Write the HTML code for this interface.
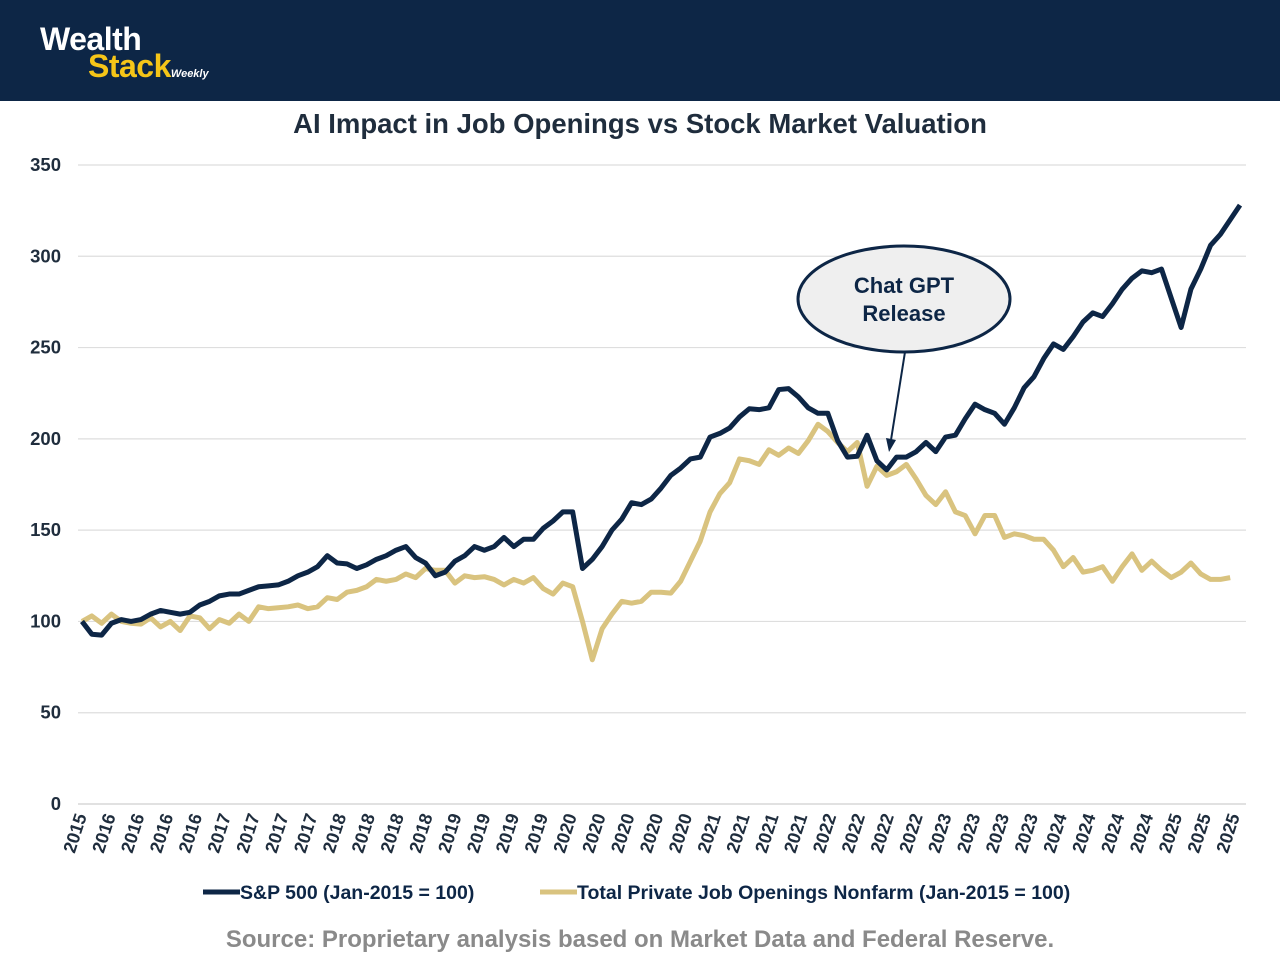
<!DOCTYPE html>
<html><head><meta charset="utf-8"><style>
body{margin:0;width:1280px;height:960px;background:#fff;font-family:"Liberation Sans",sans-serif;overflow:hidden}
#hdr{position:absolute;left:0;top:0;width:1280px;height:101px;background:#0d2646}
</style></head><body>
<div id="hdr">
<div style="position:absolute;left:40px;top:26px;font-weight:bold;line-height:27px">
<div style="color:#fff;font-size:32px;letter-spacing:-0.5px">Wealth</div>
<div style="color:#f5c518;font-size:32px;margin-left:48px;letter-spacing:-0.5px">Stack<span style="font-size:11px;color:#fff;font-style:italic;letter-spacing:0">Weekly</span></div>
</div></div>
<svg id="chart" width="1280" height="960" style="position:absolute;left:0;top:0">
<text x="640" y="133" text-anchor="middle" font-size="27.5" font-weight="bold" fill="#1f2d3d">AI Impact in Job Openings vs Stock Market Valuation</text>
<g id="grid"></g><g id="xt"></g><g id="lines"></g>
<g>
<ellipse cx="904" cy="299" rx="106" ry="53" fill="#efefef" stroke="#0d2646" stroke-width="3"/>
<text x="904" y="293" text-anchor="middle" font-size="22" font-weight="bold" fill="#0d2646">Chat GPT</text>
<text x="904" y="321" text-anchor="middle" font-size="22" font-weight="bold" fill="#0d2646">Release</text>
<line x1="905" y1="352" x2="891" y2="440" stroke="#0d2646" stroke-width="2"/>
<polygon points="886,438 896,440 889,452" fill="#0d2646"/>
</g>
<g>
<line x1="203" y1="892" x2="240" y2="892" stroke="#0d2646" stroke-width="5"/>
<text x="240" y="899" font-size="19.5" font-weight="bold" fill="#0d2646">S&amp;P 500 (Jan-2015 = 100)</text>
<line x1="540" y1="892" x2="577" y2="892" stroke="#d9c37f" stroke-width="5"/>
<text x="577" y="899" font-size="19.5" font-weight="bold" fill="#0d2646">Total Private Job Openings Nonfarm (Jan-2015 = 100)</text>
</g>
<text x="640" y="947" text-anchor="middle" font-size="24" font-weight="bold" fill="#8a8a8a">Source: Proprietary analysis based on Market Data and Federal Reserve.</text>
</svg>
<script>
const yTicks=[0,50,100,150,200,250,300,350];
const xLabels=["2015","2016","2016","2016","2016","2017","2017","2017","2017","2018","2018","2018","2018","2019","2019","2019","2019","2020","2020","2020","2020","2020","2021","2021","2021","2021","2022","2022","2022","2022","2023","2023","2023","2023","2024","2024","2024","2024","2025","2025","2025"];
const sp500=[100,93,92.5,99,101,100,101,104,106,105,104,105,109,111,114,115,115,117,119,119.5,120,122,125,127,130,136,132,131.5,129,131,134,136,139,141,135,132,125,127,133,136,141,139,141,146,141,145,145,151,155,160,160,129,134,141,150,156,165,164,167,173,180,184,189,190,201,203,206,212,216.5,216,217,227,227.5,223,217,214,214,199,190,190.5,202,188,183,190,190,193,198,193,201,202,211,219,216,214,208,217,228,234,244,252,249,256,264,269,267,274,282,288,292,291,293,277,261,282,293,306,312,320,328];
const jobs=[100,103,99,104,100,99,98.5,102,97,100,95,103,102,96,101,99,104,100,108,107,107.5,108,109,107,108,113,112,116,117,119,123,122,123,126,124,129,128,128,121,125,124,124.5,123,120,123,121,124,118,115,121,119,100,79,96,104,111,110,111,116,116,115.5,122,133,144,160,170,176,189,188,186,194,191,195,192,199,208,204,198,193,198,174,185,180,182,186,178,169,164,171,160,158,148,158,158,146,148,147,145,145,139,130,135,127,128,130,122,130,137,128,133,128,124,127,132,126,123,123,124];
const NS="http://www.w3.org/2000/svg";
const X0=82,X1=1240,N=sp500.length;
const xs=i=>X0+(X1-X0)*i/(N-1);
const ys=v=>804-v*(804-165)/350;
const grid=document.getElementById('grid');
yTicks.forEach(t=>{
 const l=document.createElementNS(NS,'line');
 l.setAttribute('x1',78);l.setAttribute('x2',1246);l.setAttribute('y1',ys(t));l.setAttribute('y2',ys(t));
 l.setAttribute('stroke',t===0?'#cfcfcf':'#dedede');l.setAttribute('stroke-width',1.2);
 
 
 grid.appendChild(l);
 const tx=document.createElementNS(NS,'text');
 tx.setAttribute('x',61);tx.setAttribute('y',ys(t)+6);tx.setAttribute('text-anchor','end');
 tx.setAttribute('font-size',18.5);tx.setAttribute('font-weight','bold');tx.setAttribute('fill','#1f2d3d');
 tx.textContent=t;
 
 
 grid.appendChild(tx);
});
const xt=document.getElementById('xt');
xLabels.forEach((s,i)=>{
 const x=X0+(1235-X0)*i/(xLabels.length-1)+5;
 const tx=document.createElementNS(NS,'text');
 tx.setAttribute('transform',`translate(${x},816) rotate(-72)`);
 tx.setAttribute('text-anchor','end');tx.setAttribute('font-size',18);tx.setAttribute('font-weight','bold');tx.setAttribute('fill','#1f2d3d');
 tx.textContent=s;
 
 
 xt.appendChild(tx);
});
const lines=document.getElementById('lines');
function draw(arr,color,name){
 const p=document.createElementNS(NS,'polyline');
 p.setAttribute('points',arr.map((v,i)=>xs(i)+','+ys(v)).join(' '));
 p.setAttribute('fill','none');p.setAttribute('stroke',color);p.setAttribute('stroke-width',5);p.setAttribute('stroke-linejoin','round');
 
 
 lines.appendChild(p);
}
draw(jobs,'#d9c37f','job-openings-line');
draw(sp500,'#0d2646','sp500-line');
</script>
</body></html>
